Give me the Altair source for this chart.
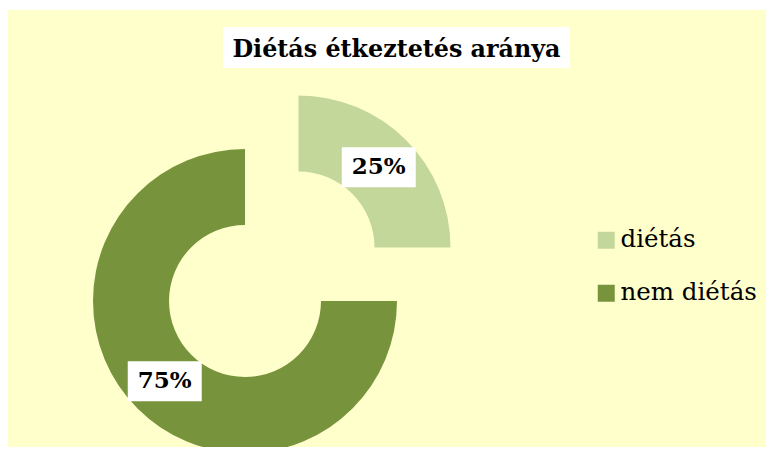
import altair as alt
import pandas as pd

# ---- data ----
categories = ["diétás", "nem diétás"]
values = [25, 75]
colors = ["#C4D79B", "#77933C"]
title_text = "Diétás étkeztetés aránya"

df = pd.DataFrame({"kategoria": categories, "ertek": values, "sorrend": list(range(len(categories)))})
title_df = pd.DataFrame({"t": [title_text]})

# ---- layout parameters (exploded donut centers, radii) ----
centers = {"diétás": (290.5, 237.5), "nem diétás": (237, 291)}
R_OUT, R_IN, R_LABEL = 152, 76, 113.5
BOX_W, BOX_H = 74, 40
SERIF = "DejaVu Serif"

color_scale = alt.Scale(domain=categories, range=colors)
legend = alt.Legend(
    title=None, orient="none", legendX=586, legendY=218,
    symbolType="square", symbolSize=289, symbolStrokeWidth=0,
    labelFont=SERIF, labelFontSize=24.5, labelColor="black",
    rowPadding=28, labelOffset=2, padding=0,
)

base = (
    alt.Chart(df)
    .transform_joinaggregate(total="sum(ertek)")
    .transform_window(cum="sum(ertek)", sort=[alt.SortField("sorrend")])
    .transform_calculate(start="(datum.cum - datum.ertek) / datum.total")
    .transform_calculate(end="datum.cum / datum.total")
    .transform_calculate(pct="format(datum.ertek / datum.total, '.0%')")
)


def slice_layers(cat):
    cx, cy = centers[cat]
    b = (
        base.transform_filter(alt.datum.kategoria == cat)
        .transform_calculate(mid="PI * (datum.start + datum.end)")
        .transform_calculate(lx=f"{cx} + {R_LABEL} * sin(datum.mid)")
        .transform_calculate(ly=f"{cy} - {R_LABEL} * cos(datum.mid)")
        .transform_calculate(bx1=f"datum.lx - {BOX_W / 2}")
        .transform_calculate(bx2=f"datum.lx + {BOX_W / 2}")
        .transform_calculate(by1=f"datum.ly - {BOX_H / 2}")
        .transform_calculate(by2=f"datum.ly + {BOX_H / 2}")
    )
    arc = b.mark_arc(outerRadius=R_OUT, innerRadius=R_IN, strokeWidth=0).encode(
        theta=alt.Theta("start:Q", scale=alt.Scale(domain=[0, 1])),
        theta2="end:Q",
        color=alt.Color("kategoria:N", scale=color_scale, legend=legend),
        x=alt.value(cx),
        y=alt.value(cy),
    )
    box = b.mark_rect(color="white").encode(
        x=alt.X("bx1:Q", scale=None, axis=None),
        x2="bx2:Q",
        y=alt.Y("by1:Q", scale=None, axis=None),
        y2="by2:Q",
    )
    txt = b.mark_text(
        font=SERIF, fontWeight="bold", fontSize=23, color="black",
        align="center", baseline="middle",
    ).encode(
        x=alt.X("lx:Q", scale=None, axis=None),
        y=alt.Y("ly:Q", scale=None, axis=None),
        text="pct:N",
    )
    return arc, box, txt


a1, b1, t1 = slice_layers("diétás")
a2, b2, t2 = slice_layers("nem diétás")

title_box = alt.Chart(title_df).mark_rect(color="white").encode(
    x=alt.value(215), x2=alt.value(562), y=alt.value(17), y2=alt.value(58)
)
title_txt = alt.Chart(title_df).mark_text(
    font=SERIF, fontWeight="bold", fontSize=23.8, color="black",
    align="center", baseline="alphabetic",
).encode(x=alt.value(388.5), y=alt.value(47), text="t:N")

chart = (
    alt.layer(a1, a2, b1, b2, t1, t2, title_box, title_txt)
    .properties(
        width=758, height=437,
        padding={"top": 2, "left": 0, "right": 0, "bottom": 0},
        autosize=alt.AutoSizeParams(type="none"),
        background="white",
    )
    .configure_view(fill="#FFFFCC", strokeWidth=0)
)

chart.save("out.html", embed_options={"renderer": "svg", "actions": False})
